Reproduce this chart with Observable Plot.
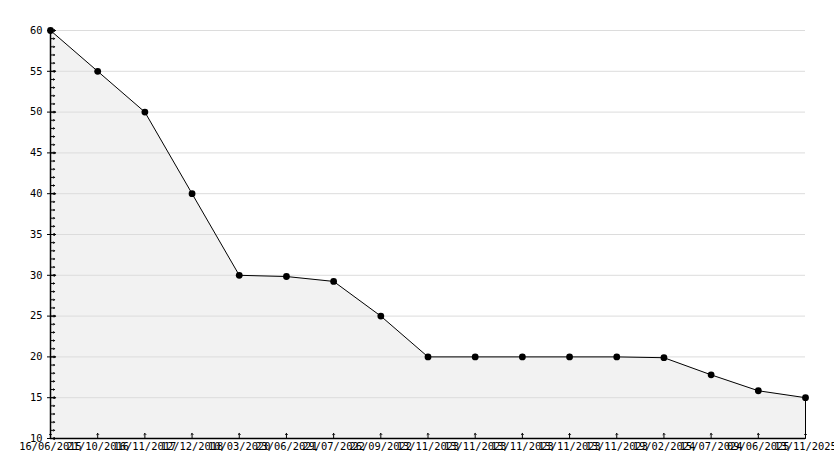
<!DOCTYPE html>
<html>
<head>
<meta charset="utf-8">
<script src="https://cdn.jsdelivr.net/npm/d3@7"></script>
<script src="https://cdn.jsdelivr.net/npm/@observablehq/plot@0.6"></script>
<style>
  html, body { margin: 0; padding: 0; background: #fff; }
  #chart svg { display: block; }
</style>
</head>
<body>
<div id="chart"></div>
<script>
const dateLabels = [
  "16/06/2015", "21/10/2016", "16/11/2017", "12/12/2018", "10/03/2020",
  "23/06/2021", "29/07/2022", "26/09/2022", "13/11/2023", "13/11/2023",
  "13/11/2023", "13/11/2023", "13/11/2023", "19/02/2024", "15/07/2024",
  "09/06/2025", "13/11/2025"
];
const values = [60, 55, 50, 40, 30, 29.85, 29.25, 25, 20, 20, 20, 20, 20, 19.9, 17.8, 15.85, 15];
const yMajorTicks = [10, 15, 20, 25, 30, 35, 40, 45, 50, 55, 60];
const yMinorTicks = d3.range(10, 61);
const yBase = 10;

const data = values.map((v, i) => ({i, v, label: dateLabels[i]}));
const idx = data.map(d => d.i);
const last = data[data.length - 1];
const font = "'DejaVu Sans Mono', monospace";

const chart = Plot.plot({
  width: 834,
  height: 468,
  marginLeft: 50,
  marginRight: 29,
  marginTop: 30,
  marginBottom: 30,
  style: {fontFamily: font, fontSize: "10.4px", background: "#fff", color: "#000"},
  x: {type: "linear", domain: [0, values.length - 1], label: null},
  y: {domain: [10, 60], label: null},
  marks: [
    Plot.areaY(data, {x: "i", y1: yBase, y2: "v", fill: "#f2f2f2"}),
    Plot.ruleY(yMajorTicks.filter(t => t > 10), {stroke: "#dcdcdc", strokeWidth: 1}),
    Plot.lineY(data, {x: "i", y: "v", stroke: "#000", strokeWidth: 1}),
    Plot.ruleX([last], {x: "i", y1: yBase, y2: "v", stroke: "#000", strokeWidth: 1}),
    Plot.ruleX([0], {stroke: "#000", strokeWidth: 1.5}),
    Plot.ruleY([yBase], {stroke: "#000", strokeWidth: 1.5}),
    Plot.vector(yMinorTicks, {y: d => d, frameAnchor: "left", rotate: 90, length: 4, anchor: "start", stroke: "#000", strokeWidth: 1}),
    Plot.vector(yMajorTicks, {y: d => d, frameAnchor: "left", rotate: 90, length: 5, anchor: "start", stroke: "#000", strokeWidth: 1}),
    Plot.vector(idx, {x: d => d, frameAnchor: "bottom", rotate: 0, length: 5, anchor: "start", stroke: "#000", strokeWidth: 1}),
    Plot.axisY(yMajorTicks, {tickSize: 3, tickPadding: 5, fontSize: 10.4, fontFamily: font, label: null}),
    Plot.axisX(idx, {tickSize: 0, tickPadding: 4, tickFormat: i => dateLabels[i], fontSize: 10.4, fontFamily: font, label: null}),
    Plot.dot(data, {x: "i", y: "v", r: 3.4, fill: "#000", stroke: null})
  ]
});
document.getElementById("chart").appendChild(chart);
</script>
</body>
</html>
